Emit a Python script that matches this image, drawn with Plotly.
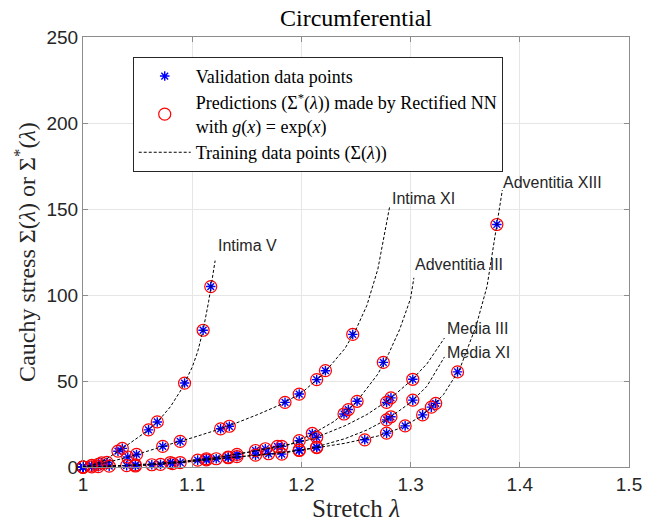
import plotly.graph_objects as go

# ---------------- data ----------------
# Intima V
iv_val_lam = [1.000, 1.008, 1.017, 1.032, 1.036, 1.060, 1.068, 1.093, 1.110, 1.117]
iv_val_sig = [0.0, 0.9, 2.4, 9.2, 10.8, 21.6, 26.2, 48.8, 79.5, 104.9]
iv_tr_lam = [1.00, 1.01, 1.02, 1.03, 1.04, 1.05, 1.06, 1.07, 1.08, 1.09, 1.10, 1.105, 1.11, 1.115, 1.121]
iv_tr_sig = [0.0, 1.5, 4.0, 8.0, 12.5, 17.0, 21.6, 27.5, 35.0, 45.0, 58.0, 67.0, 79.5, 96.0, 120.0]

# Intima XI
ix_val_lam = [1.000, 1.014, 1.022, 1.041, 1.049, 1.073, 1.089, 1.126, 1.134, 1.185, 1.198, 1.214, 1.222, 1.247]
ix_val_sig = [0.0, 1.5, 2.7, 5.8, 7.3, 12.0, 14.9, 22.2, 23.7, 37.6, 42.4, 50.8, 56.0, 77.1]
ix_tr_lam = [1.00, 1.02, 1.04, 1.06, 1.08, 1.10, 1.12, 1.14, 1.16, 1.18, 1.20, 1.22, 1.24, 1.25, 1.26, 1.27, 1.281]
ix_tr_sig = [0.0, 2.4, 5.5, 9.5, 13.3, 17.0, 21.0, 25.5, 30.5, 36.0, 43.0, 54.0, 69.0, 80.0, 94.0, 115.0, 152.0]

# Adventitia III
a3_val_lam = [1.000, 1.024, 1.048, 1.080, 1.113, 1.141, 1.167, 1.178, 1.198, 1.210, 1.239, 1.243, 1.251, 1.275]
a3_val_sig = [0.0, 0.5, 1.2, 2.6, 4.8, 7.3, 10.6, 12.0, 15.3, 19.5, 30.8, 33.4, 38.2, 60.8]
a3_tr_lam = [1.00, 1.03, 1.06, 1.09, 1.12, 1.15, 1.17, 1.19, 1.21, 1.23, 1.25, 1.27, 1.28, 1.29, 1.30, 1.303]
a3_tr_sig = [0.0, 0.6, 1.8, 3.3, 5.4, 8.4, 11.0, 13.3, 19.2, 26.5, 37.5, 54.0, 66.0, 80.0, 98.0, 110.0]

# Media III
m3_val_lam = [1.000, 1.040, 1.071, 1.105, 1.133, 1.158, 1.182, 1.214, 1.278, 1.282, 1.302]
m3_val_sig = [0.0, 0.8, 1.5, 4.0, 5.8, 9.6, 12.0, 17.3, 37.6, 40.2, 51.0]
m3_tr_lam = [1.00, 1.03, 1.06, 1.09, 1.12, 1.15, 1.18, 1.21, 1.24, 1.26, 1.28, 1.30, 1.315, 1.331]
m3_tr_sig = [0.0, 0.6, 1.3, 3.0, 5.0, 8.5, 11.7, 16.3, 24.0, 30.5, 39.0, 50.0, 60.0, 75.0]

# Media XI
m11_val_lam = [1.000, 1.014, 1.063, 1.089, 1.122, 1.141, 1.170, 1.198, 1.214, 1.278, 1.282, 1.302]
m11_val_sig = [0.0, 0.2, 1.3, 2.6, 4.8, 6.0, 7.7, 9.9, 11.6, 27.4, 29.2, 38.9]
m11_tr_lam = [1.00, 1.03, 1.06, 1.09, 1.12, 1.15, 1.18, 1.21, 1.24, 1.26, 1.28, 1.30, 1.315, 1.331]
m11_tr_sig = [0.0, 0.4, 1.2, 2.7, 4.6, 6.6, 8.3, 11.0, 16.5, 21.5, 28.3, 37.5, 47.0, 64.0]

# Adventitia XIII
a13_val_lam = [1.000, 1.008, 1.048, 1.082, 1.113, 1.133, 1.158, 1.182, 1.198, 1.214, 1.258, 1.278, 1.295, 1.311, 1.319, 1.323, 1.343, 1.379]
a13_val_sig = [0.0, 0.1, 0.6, 2.0, 4.2, 5.4, 6.9, 7.5, 9.6, 11.3, 15.8, 19.7, 23.9, 30.3, 34.8, 37.0, 55.3, 141.0]
a13_tr_lam = [1.00, 1.03, 1.06, 1.09, 1.12, 1.15, 1.18, 1.21, 1.24, 1.27, 1.29, 1.31, 1.33, 1.345, 1.36, 1.37, 1.379, 1.384]
a13_tr_sig = [0.0, 0.5, 1.2, 2.6, 4.6, 6.3, 7.8, 10.8, 13.8, 18.0, 22.5, 29.5, 42.0, 57.0, 82.0, 105.0, 140.0, 161.0]

curve_names = ["Intima V", "Intima XI", "Adventitia III", "Media III", "Media XI", "Adventitia XIII"]
label_lam = [1.122, 1.281, 1.302, 1.3315, 1.3315, 1.383]
label_sig = [129, 156, 118, 80.4, 66.5, 165.5]

x_ticks = [1, 1.1, 1.2, 1.3, 1.4, 1.5]
x_ticktext = ["1", "1.1", "1.2", "1.3", "1.4", "1.5"]
y_ticks = [0, 50, 100, 150, 200, 250]

curves = [
    (iv_val_lam, iv_val_sig, iv_tr_lam, iv_tr_sig),
    (ix_val_lam, ix_val_sig, ix_tr_lam, ix_tr_sig),
    (a3_val_lam, a3_val_sig, a3_tr_lam, a3_tr_sig),
    (m3_val_lam, m3_val_sig, m3_tr_lam, m3_tr_sig),
    (m11_val_lam, m11_val_sig, m11_tr_lam, m11_tr_sig),
    (a13_val_lam, a13_val_sig, a13_tr_lam, a13_tr_sig),
]

SERIF = "Liberation Serif"
SANS = "Liberation Sans"
AX = "#8c8c8c"
TXT = "#262626"

fig = go.Figure()

for i, (vl, vs, tl, ts) in enumerate(curves):
    fig.add_trace(go.Scatter(
        x=vl, y=vs, mode="markers", name="Validation data points",
        showlegend=(i == 0), cliponaxis=False,
        marker=dict(symbol="asterisk-open", size=8, color="#0000ff",
                    line=dict(color="#0000ff", width=1.4)),
    ))
for i, (vl, vs, tl, ts) in enumerate(curves):
    fig.add_trace(go.Scatter(
        x=vl, y=vs, mode="markers",
        name="Predictions (\u03a3<sup>*</sup>(<i>\u03bb</i>)) made by Rectified NN<br>with <i>g</i>(<i>x</i>) = exp(<i>x</i>)",
        showlegend=(i == 0), cliponaxis=False,
        marker=dict(symbol="circle-open", size=12, color="#ff0000",
                    line=dict(color="#ff0000", width=1.2)),
    ))
for i, (vl, vs, tl, ts) in enumerate(curves):
    fig.add_trace(go.Scatter(
        x=tl, y=ts, mode="lines", name="Training data points (\u03a3(<i>\u03bb</i>))",
        showlegend=(i == 0), cliponaxis=False,
        line=dict(color="#000000", width=1, dash="3px,2px"),
    ))

for name, lx, ly in zip(curve_names, label_lam, label_sig):
    fig.add_annotation(x=lx, y=ly, text=name, showarrow=False, xanchor="left",
                       yanchor="middle", font=dict(family=SANS, size=16, color=TXT))

fig.update_layout(
    width=654, height=526,
    margin=dict(l=83, r=22, t=37, b=56),
    paper_bgcolor="white", plot_bgcolor="white",
    title=dict(text="Circumferential", x=0.5, xref="paper", y=1 - 18 / 526, yref="container",
               xanchor="center", yanchor="middle", font=dict(family=SERIF, size=24, color="#000")),
    showlegend=True,
    legend=dict(x=(133 - 83) / 549, y=(470 - 57) / 433, xanchor="left", yanchor="top",
                bgcolor="white", bordercolor=TXT, borderwidth=1,
                font=dict(family=SERIF, size=18, color="#000"), itemwidth=52,
                traceorder="normal"),
)
fig.update_xaxes(range=[1, 1.5], tickvals=x_ticks, ticktext=x_ticktext,
                 showgrid=True, gridcolor="#e6e6e6", gridwidth=1, zeroline=False,
                 showline=True, linecolor=AX, linewidth=1, mirror="ticks",
                 ticks="inside", ticklen=5, tickcolor=AX,
                 tickfont=dict(family=SANS, size=19, color=TXT),
                 title=dict(text="Stretch <i>\u03bb</i>", font=dict(family=SERIF, size=25, color=TXT), standoff=2))
fig.update_yaxes(range=[0, 250], tickvals=y_ticks,
                 showgrid=True, gridcolor="#e6e6e6", gridwidth=1, zeroline=False,
                 showline=True, linecolor=AX, linewidth=1, mirror="ticks",
                 ticks="inside", ticklen=5, tickcolor=AX,
                 tickfont=dict(family=SANS, size=19, color=TXT),
                 title=dict(text="Cauchy stress \u03a3(<i>\u03bb</i>) or \u03a3<sup>*</sup>(<i>\u03bb</i>)",
                            font=dict(family=SERIF, size=24, color=TXT), standoff=4))

fig.write_html("out.html")
